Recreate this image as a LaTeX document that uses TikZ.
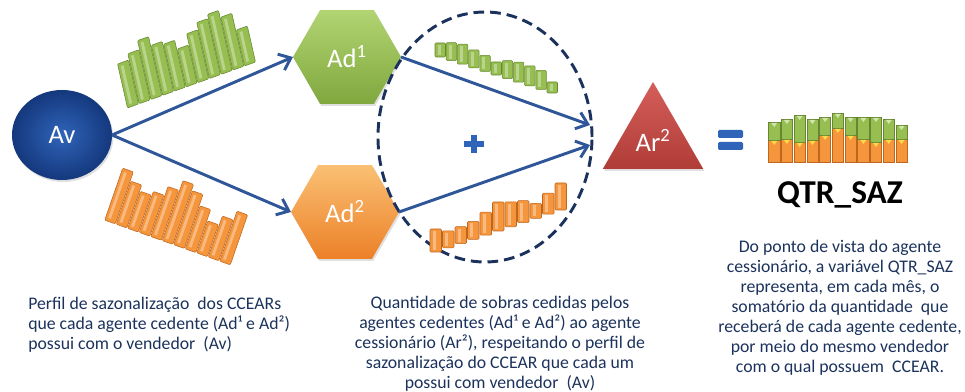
\documentclass[tikz,border=0pt]{standalone}
\usepackage{fontspec}
\setmainfont{Carlito}
\usetikzlibrary{shapes.geometric,arrows.meta,shadows}
\definecolor{avlight}{RGB}{48,100,185}
\definecolor{avdark}{RGB}{20,56,125}
\definecolor{adgreen}{RGB}{150,190,80}
\definecolor{greenlight}{RGB}{178,212,115}
\definecolor{greendark}{RGB}{128,168,62}
\definecolor{adorange}{RGB}{245,150,60}
\definecolor{orangelight}{RGB}{250,192,115}
\definecolor{orangedark}{RGB}{236,128,40}
\definecolor{redlight}{RGB}{212,95,90}
\definecolor{reddark}{RGB}{176,60,56}
\definecolor{linkblue}{RGB}{46,86,152}
\definecolor{navytext}{RGB}{27,50,92}

\tikzset{
  agent/.style={text=white, font=\fontsize{20}{22}\selectfont, inner sep=0pt, outer sep=0pt,
    drop shadow={opacity=0.25, shadow xshift=1pt, shadow yshift=-1.5pt}},
  flow/.style={-{Straight Barb[length=8pt,width=13pt]}, line width=2.2pt, linkblue},
  note/.style={text=navytext, font=\fontsize{13.3}{15}\selectfont, inner sep=0pt},
  grnbar/.style={fill=adgreen, draw=greendark!80!black, line width=0.4pt, rounded corners=0.8pt},
  orgbar/.style={fill=adorange, draw=orangedark!80!black, line width=0.4pt, rounded corners=0.8pt},
  shine/.style={fill=white, opacity=0.35}
}

\begin{document}
\begin{tikzpicture}[x=0.75pt, y=-0.75pt]
  \useasboundingbox (0,0) rectangle (965,392);
  %% pixel grid: x in [0,965], y in [0,392] pointing down

  % ---- AGENTS ----
  \node[agent, ellipse, minimum width=75pt, minimum height=67.5pt,
    inner color=avlight, outer color=avdark] (av) at (62,135) {Av};
  \node[agent, regular polygon, regular polygon sides=6, minimum size=81pt,
    top color=greenlight, bottom color=greendark] (ad1) at (347,57) {Ad\textsuperscript{1}};
  \node[agent, regular polygon, regular polygon sides=6, minimum size=81pt,
    top color=orangelight, bottom color=orangedark] (ad2) at (345,212) {Ad\textsuperscript{2}};
  \node[agent, regular polygon, regular polygon sides=3, minimum size=87pt,
    top color=redlight, bottom color=reddark] (ar2) at (653,140) {Ar\textsuperscript{2}};

  % ---- GROUP (dashed) ----
  \node[ellipse, draw=navytext, line width=2.2pt, dash pattern=on 8pt off 4.5pt,
    minimum width=160.5pt, minimum height=187.5pt, inner sep=0pt] (grp) at (485,137) {};
  \fill[avlight] (464,141) rectangle (484,147);
  \fill[avlight] (471,135) rectangle (477,153);

  % ---- PROFILES ----
  % green profile, Av -> Ad1
  \begin{scope}[shift={(133,106)}, x={(8.775pt,3.15pt)}, y={(-0.17pt,0.75pt)}]
    \foreach \h [count=\i from 0] in {44,50,59,50,47,38,49,56,60,53,36} {
      \draw[grnbar] (\i-0.47,0) -- (\i+0.47,0) -- (\i+0.47,\h) -- (\i-0.47,\h) -- cycle;
      \fill[shine] (\i-0.25,3) -- (\i-0.02,3) -- (\i-0.02,\h-3) -- (\i-0.25,\h-3) -- cycle;
    }
  \end{scope}
  % orange profile, Av -> Ad2
  \begin{scope}[shift={(110,222)}, x={(8.625pt,-3.075pt)}, y={(0.26pt,0.75pt)}]
    \foreach \h [count=\i from 0] in {52,43,37,41,50,60,54,43,32,41,50} {
      \draw[orgbar] (\i-0.46,0) -- (\i+0.46,0) -- (\i+0.46,\h) -- (\i-0.46,\h) -- cycle;
      \fill[shine] (\i-0.25,3) -- (\i-0.02,3) -- (\i-0.02,\h-3) -- (\i-0.25,\h-3) -- cycle;
    }
  \end{scope}
  % green share, Ad1 -> Ar2
  \foreach \h [count=\i from 0] in {14,18,20,18,16,13,18,20,20,19,11} {
    \draw[grnbar] ({435+11.2*\i},{57+3.6*\i}) rectangle ++(10.5,-\h);
    \fill[shine] ({437.5+11.2*\i},{55+3.6*\i}) rectangle ++(3,{4-\h});
  }
  % orange share, Ad2 -> Ar2
  \foreach \h [count=\i from 0] in {23,17,17,18,23,29,25,22,15,21,27} {
    \draw[orgbar] ({430+12.5*\i},{252-4.2*\i}) rectangle ++(11.5,-\h);
    \fill[shine] ({432.5+12.5*\i},{250-4.2*\i}) rectangle ++(3,{4-\h});
  }

  % ---- FLOWS ----
  \coordinate (in1) at (590,125);
  \coordinate (in2) at (590,145);
  \draw[flow] (av.east) -- (ad1.west);
  \draw[flow] (av.east) -- (ad2.west);
  \draw[flow] (ad1.east) -- (in1);
  \draw[flow] (ad2.east) -- (in2);

  % ---- RESULT ----
  \fill[avlight, rounded corners=1pt] (718,130) rectangle (743,138);
  \fill[avlight, rounded corners=1pt] (718,142) rectangle (743,150);
  \foreach \g/\o [count=\i from 0] in {122/140,119/139,115/142,119/140,117/135,113/128,
      117/135,117/139,117/142,119/139,125/139} {
    \draw[orgbar, rounded corners=0pt] ({768.6+12.73*\i},162) rectangle ({779.8+12.73*\i},\o);
    \draw[grnbar, rounded corners=0pt] ({768.6+12.73*\i},\o) rectangle ({779.8+12.73*\i},\g);
    \fill[greenlight!60!white] ({771.2+12.73*\i},{\g+1}) -- ++(6,0) -- ++(-3,4) -- cycle;
    \fill[orangelight!60!yellow] ({771.2+12.73*\i},{\o+1}) -- ++(6,0) -- ++(-3,4) -- cycle;
  }
  \node[font=\fontsize{25}{27}\selectfont\bfseries, inner sep=0pt] (qtr) at (840,195) {QTR\_SAZ};

  % ---- NOTES ----
  \node[note, anchor=north west, align=left] (noteleft) at (28,297)
    {Perfil de sazonalização\ \ dos CCEARs\\que cada agente cedente (Ad¹ e Ad²)\\possui com o vendedor\ \ (Av)};
  \node[note, anchor=north, align=center] (notemid) at (500,296)
    {Quantidade de sobras cedidas pelos\\agentes cedentes (Ad¹ e Ad²) ao agente\\cessionário (Ar²), respeitando o perfil de\\sazonalização do CCEAR que cada um\\possui com vendedor\ \ (Av)};
  \node[note, anchor=north, align=center] (noteright) at (840,240)
    {Do ponto de vista do agente\\cessionário, a variável QTR\_SAZ\\representa, em cada mês, o\\somatório da quantidade\ \ que\\receberá de cada agente cedente,\\por meio do mesmo vendedor\\com o qual possuem\ \ CCEAR.};
\end{tikzpicture}
\end{document}
